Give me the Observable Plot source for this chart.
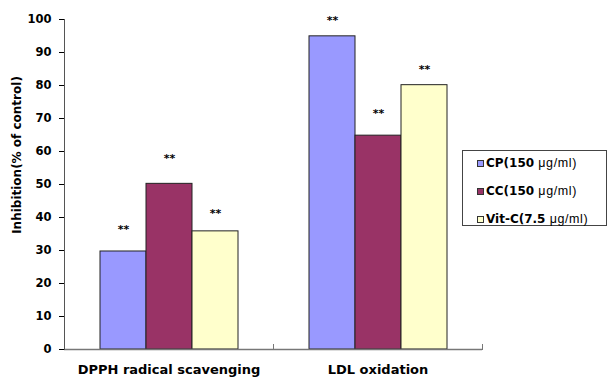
<!DOCTYPE html>
<html>
<head>
<meta charset="utf-8">
<script src="https://cdn.jsdelivr.net/npm/d3@7"></script>
<script src="https://cdn.jsdelivr.net/npm/@observablehq/plot@0.6"></script>
<style>
  body { margin: 0; background: #fff; }
  #wrap { position: relative; width: 608px; height: 378px; font-family: "DejaVu Sans", sans-serif; }
  #ylabel { position: absolute; left: 17px; top: 155px; transform: translate(-50%, -50%) rotate(-90deg); white-space: nowrap; font-weight: bold; font-size: 12px; font-family: "DejaVu Sans", sans-serif; color: #000; }
  #legend { position: absolute; left: 462px; top: 150px; width: 145px; height: 76px; border: 1px solid #444; box-sizing: border-box; background: #fff; }
  .item { position: absolute; left: 14px; display: flex; align-items: center; white-space: nowrap; }
  .sw { width: 5px; height: 5px; border: 1px solid #333; margin-right: 2px; }
  .b { font-weight: bold; font-size: 12px; }
  .u { font-size: 12.5px; font-family: "Liberation Sans", Arial, sans-serif; letter-spacing: 0.6px; }
</style>
</head>
<body>
<div id="wrap"></div>
<script>
const groups = ["DPPH radical scavenging", "LDL oxidation"];
const seriesKeys = ["CP", "CC", "Vit-C"];
const seriesLabels = ["CP(150", "CC(150", "Vit-C(7.5"];
const seriesUnits = ["μg/ml)", "μg/ml)", "μg/ml)"];
const seriesColors = ["#9999FF", "#993366", "#FFFFCC"];
const cpValues = [29.7, 94.9];
const ccValues = [50.2, 64.8];
const vitcValues = [35.8, 80.1];
const cpStarY = [37.3, 100.6];
const ccStarY = [58.8, 72.4];
const vitcStarY = [42.1, 85.8];
const yTicks = [0, 10, 20, 30, 40, 50, 60, 70, 80, 90, 100];
const starText = "**";

const valueSets = [cpValues, ccValues, vitcValues];
const starSets = [cpStarY, ccStarY, vitcStarY];
const data = [];
groups.forEach((g, gi) => seriesKeys.forEach((k, si) => {
  data.push({group: g, key: k, value: valueSets[si][gi], starY: starSets[si][gi]});
}));

const chart = Plot.plot({
  width: 608, height: 378,
  marginLeft: 63, marginRight: 126, marginTop: 19, marginBottom: 29,
  style: {fontFamily: "'DejaVu Sans', sans-serif", fontSize: "11.5px", fontWeight: "bold", color: "#000", background: "#fff"},
  fx: {domain: groups, padding: 0, label: null, tickSize: 0, tickPadding: 15},
  x: {domain: seriesKeys, paddingInner: 0, paddingOuter: 0.74, axis: null},
  y: {domain: [0, 100], ticks: yTicks, tickSize: 5, tickPadding: 8, label: null, line: true},
  color: {domain: seriesKeys, range: seriesColors},
  marks: [
    Plot.barY(data, {fx: "group", x: "key", y: "value", fill: "key", stroke: "#222", strokeWidth: 1}),
    Plot.ruleY([0], {stroke: "#777", strokeWidth: 1.5}),
    Plot.frame({anchor: "right", insetTop: 325, stroke: "#777"}),
    Plot.frame({anchor: "left", fx: groups[0], stroke: "#555"}),
    Plot.text(data, {fx: "group", x: "key", y: "starY", text: () => starText, fontSize: 11, fontWeight: "bold", dy: 3})
  ]
});
chart.querySelectorAll("[aria-label='fx-axis tick label'] text, g[aria-label^='fx-axis'] text").forEach(t => t.setAttribute("font-size", "13"));
const wrap = document.getElementById("wrap");
wrap.appendChild(chart);

const yl = document.createElement("div");
yl.id = "ylabel";
yl.textContent = "Inhibition(% of control)";
wrap.appendChild(yl);

const lg = document.createElement("div");
lg.id = "legend";
const rowsTop = [5, 33, 61];
seriesKeys.forEach((k, i) => {
  const it = document.createElement("div");
  it.className = "item";
  it.style.top = rowsTop[i] + "px";
  const sw = document.createElement("span");
  sw.className = "sw";
  sw.style.background = seriesColors[i];
  const t1 = document.createElement("span");
  t1.className = "b";
  t1.textContent = seriesLabels[i] + "\u00a0";
  const t2 = document.createElement("span");
  t2.className = "u";
  t2.textContent = seriesUnits[i];
  it.append(sw, t1, t2);
  lg.appendChild(it);
});
wrap.appendChild(lg);
</script>
</body>
</html>
